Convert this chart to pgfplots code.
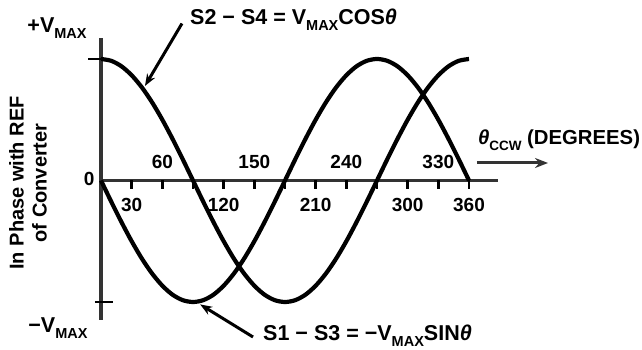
\documentclass[border=0pt]{standalone}
\usepackage{pgfplots}
\usepackage{pgfplotstable}
\pgfplotsset{compat=1.18}
\usetikzlibrary{arrows.meta}
\usepackage{fontspec}
\setmainfont{Liberation Sans}

% resolver output signals over one electrical turn (degrees)
\pgfplotstableread{
deg  cosv    negsin
0    1.000   0.000
10   0.985  -0.174
20   0.940  -0.342
30   0.866  -0.500
40   0.766  -0.643
50   0.643  -0.766
60   0.500  -0.866
70   0.342  -0.940
80   0.174  -0.985
90   0.000  -1.000
100 -0.174  -0.985
110 -0.342  -0.940
120 -0.500  -0.866
130 -0.643  -0.766
140 -0.766  -0.643
150 -0.866  -0.500
160 -0.940  -0.342
170 -0.985  -0.174
180 -1.000   0.000
190 -0.985   0.174
200 -0.940   0.342
210 -0.866   0.500
220 -0.766   0.643
230 -0.643   0.766
240 -0.500   0.866
250 -0.342   0.940
260 -0.174   0.985
270  0.000   1.000
280  0.174   0.985
290  0.342   0.940
300  0.500   0.866
310  0.643   0.766
320  0.766   0.643
330  0.866   0.500
340  0.940   0.342
350  0.985   0.174
360  1.000   0.000
}\resolver

\newcommand\sub[1]{\raisebox{-0.28em}{\fontsize{14.5pt}{14.5pt}\selectfont #1}}
\newcommand\lbl{\fontsize{21.5pt}{24pt}\selectfont\bfseries}
\newcommand\ylbl{\fontsize{20pt}{23pt}\selectfont\bfseries}
\newcommand\tck{\fontsize{19pt}{21pt}\selectfont\bfseries}
\newcommand\sublbl[1]{\raisebox{-0.28em}{\fontsize{13.5pt}{13.5pt}\selectfont #1}}

\begin{document}
\begin{tikzpicture}
\useasboundingbox (0,0) rectangle (642pt,350pt);
\begin{axis}[
  at={(0,0)}, anchor=south west,
  scale only axis, width=642pt, height=350pt,
  hide axis, clip=false,
  xmin=-98.81, xmax=529.25,
  ymin=-1.3951, ymax=1.4856,
  unbounded coords=jump,
]
% axes
\addplot[black!80, line width=3.2pt, line cap=rect] coordinates {(0,1.156) (0,-1.132)};
\addplot[black!80, line width=3.2pt] coordinates {(0,0) (388.4,0)};
% +Vmax and -Vmax marks
\addplot[black, line width=2.8pt] coordinates {(-12.7,1) (0,1)};
\addplot[black, line width=2.8pt] coordinates {(-5.9,-1) (11.7,-1)};
% degree ticks every 30
\addplot[black, line width=2.5pt] coordinates {
 (30,0) (30,-0.07) (30,nan) (60,0) (60,-0.07) (60,nan)
 (90,0) (90,-0.07) (90,nan) (120,0) (120,-0.07) (120,nan)
 (150,0) (150,-0.07) (150,nan) (180,0) (180,-0.07) (180,nan)
 (210,0) (210,-0.07) (210,nan) (240,0) (240,-0.07) (240,nan)
 (270,0) (270,-0.07) (270,nan) (300,0) (300,-0.07) (300,nan)
 (330,0) (330,-0.07) (330,nan) (360,0) (360,-0.07)};
% signals
\addplot[black, line width=4.2pt, smooth] table[x=deg, y=cosv] {\resolver};
\addplot[black, line width=4.2pt, smooth] table[x=deg, y=negsin] {\resolver};

% tick labels, alternating above and below the axis
\node[font=\tck] at (axis cs:60,0.152) {60};
\node[font=\tck] at (axis cs:150,0.152) {150};
\node[font=\tck] at (axis cs:240,0.152) {240};
\node[font=\tck] at (axis cs:330,0.152) {330};
\node[font=\tck] at (axis cs:30,-0.205) {30};
\node[font=\tck] at (axis cs:120,-0.205) {120};
\node[font=\tck] at (axis cs:210,-0.205) {210};
\node[font=\tck] at (axis cs:300,-0.205) {300};
\node[font=\tck] at (axis cs:360,-0.205) {360};
\node[font=\tck] at (axis cs:-11.7,0.012) {0};

\node[font=\lbl] at (axis cs:-43.0,1.255) {+V\sub{MAX}};
\node[font=\lbl] at (axis cs:-42.1,-1.214) {−V\sub{MAX}};

\node[font=\lbl, anchor=west, inner sep=0pt] at (axis cs:87.1,1.321)
  {S2 − S4 = V\sub{MAX}COS\textit{θ}};
\node[font=\lbl, anchor=west, inner sep=0pt] at (axis cs:158.5,-1.280)
  {S1 − S3 = −V\sub{MAX}SIN\textit{θ}};
\node[font=\fontsize{20.3pt}{23pt}\selectfont\bfseries, anchor=east, inner sep=0pt]
  at (axis cs:527.5,0.333) {\textit{θ}\sublbl{CCW} (DEGREES)};

\node[font=\ylbl, rotate=90, align=center] at (axis cs:-71.4,-0.02)
  {In Phase with REF\\of Converter};

% pointers
\draw[black, line width=3pt, -{Stealth[length=12pt,width=9pt]}]
  (axis cs:79.2,1.292) -- (axis cs:43.0,0.778);
\draw[black, line width=3pt, -{Stealth[length=12pt,width=9pt]}]
  (axis cs:148.7,-1.288) -- (axis cs:97,-1.02);
\draw[black!80, line width=3pt, -{Stealth[length=13pt,width=10pt]}]
  (axis cs:367.8,0.144) -- (axis cs:437.3,0.144);
\end{axis}
\end{tikzpicture}
\end{document}
